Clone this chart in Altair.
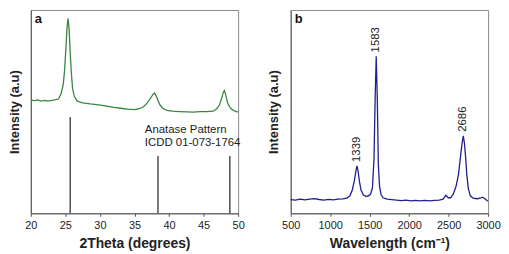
import altair as alt
import pandas as pd

# ---- Panel a: XRD pattern ----
xrd_theta = [20.0, 20.5, 21.0, 21.5, 22.0, 22.5, 23.0, 23.5, 24.0, 24.4, 24.7, 24.9, 25.1, 25.25,
             25.4, 25.55, 25.7, 25.85, 26.05, 26.3, 26.7, 27.3, 28.0, 28.6, 29.2, 30.1, 31.0, 32.0,
             33.0, 34.0, 35.0, 35.7, 36.3, 36.8, 37.3, 37.7, 37.9, 38.15, 38.4, 38.7, 39.1, 39.7,
             40.5, 41.5, 42.6, 43.5, 44.5, 45.5, 46.4, 46.9, 47.3, 47.65, 47.85, 48.0, 48.2, 48.45,
             48.75, 49.1, 49.5, 49.95]
xrd_int = [116.3, 115.8, 116.6, 115.4, 116.0, 115.3, 116.2, 116.6, 117.5, 123, 133, 148, 172, 192,
           200.3, 188, 165, 146, 128, 120, 115.5, 113.7, 113, 112.4, 112, 111.3, 110.2, 109,
           108, 107, 106.6, 107.5, 109.5, 113, 118, 122.5, 123.7, 120.5, 116, 111.3, 108, 105.7,
           105, 104.6, 104.3, 104.1, 104.5, 104.6, 105, 107.5, 111.3, 119, 124.5, 126.3, 122, 114,
           109.7, 106.8, 105.2, 104]

ref_theta = [25.7, 38.4, 48.8]
ref_int = [99, 59, 59]

ref_text = ["Anatase Pattern", "ICDD 01-073-1764"]
ref_text_x = [36.5, 36.5]
ref_text_y = [86, 72]

# ---- Panel b: Raman spectrum ----
raman_x = [500, 560, 620, 680, 740, 800, 860, 920, 980, 1040, 1100, 1160, 1210, 1250, 1280, 1305,
           1325, 1339, 1352, 1370, 1390, 1420, 1450, 1480, 1510, 1535, 1555, 1570, 1583, 1596,
           1610, 1625, 1645, 1670, 1720, 1780, 1840, 1900, 1960, 2020, 2080, 2140, 2200, 2260,
           2320, 2380, 2430, 2465, 2495, 2525, 2560, 2595, 2625, 2650, 2670, 2686, 2700, 2715,
           2730, 2750, 2775, 2810, 2860, 2900, 2930, 2960, 2990, 3000]
raman_int = [14, 13.5, 14.5, 13.8, 14.6, 15, 14.2, 13.6, 14.4, 13.8, 14.5, 14.8, 15.5, 18, 24, 33,
             43, 48.7, 44, 33, 24, 19, 17.5, 17.8, 19.5, 26, 56, 120, 161.3, 120,
             50, 28, 19, 16, 14.5, 14, 13.5, 13, 13.6, 12.8, 13.4, 12.9, 13.3, 12.7,
             13.2, 13.5, 14.5, 18.5, 16, 16, 20, 28, 40, 58, 72, 79.7, 72, 58,
             40, 25, 18, 15.5, 15, 15.5, 16.5, 15, 13, 12.5]

peak_x = [1339, 1583, 2686]
peak_y = [48.7, 161.3, 79.7]
peak_label = ["1339", "1583", "2686"]

FONT = "Liberation Sans"
H = 205
Y_DOM = [0, 209]

xrd_df = pd.DataFrame({"theta": xrd_theta, "intensity": xrd_int})
ref_df = pd.DataFrame({"theta": ref_theta, "intensity": [0] * len(ref_theta), "top": ref_int})
txt_df = pd.DataFrame({"theta": ref_text_x, "intensity": ref_text_y, "t": ref_text})
raman_df = pd.DataFrame({"x": raman_x, "intensity": raman_int})
peak_df = pd.DataFrame({"x": peak_x, "intensity": peak_y, "t": peak_label})

s_y = alt.Scale(domain=Y_DOM, nice=False)

xa = alt.X("theta:Q", scale=alt.Scale(domain=[20, 50], nice=False),
           axis=alt.Axis(values=[20, 25, 30, 35, 40, 45, 50], title="2Theta (degrees)",
                         titlePadding=6, grid=False, labelOverlap=False, labelFlush=False))
ya = alt.Y("intensity:Q", scale=s_y,
           axis=alt.Axis(labels=False, ticks=False, grid=False, title="Intensity (a.u)",
                         titlePadding=9.5, titleFontSize=13))

line_a = alt.Chart(xrd_df).mark_line(color="#3a8440", strokeWidth=1.3).encode(x=xa, y=ya)
sticks = alt.Chart(ref_df).mark_rule(color="#333333", strokeWidth=1.3).encode(
    x=xa, y=ya, y2="top:Q")
ref_lbl = alt.Chart(txt_df).mark_text(align="left", baseline="middle", font=FONT,
                                      fontSize=11.5, color="#222222").encode(
    x=xa, y=ya, text="t:N")
tag_a = alt.Chart(pd.DataFrame({"t": ["a"]})).mark_text(
    align="left", baseline="top", font=FONT, fontSize=13, fontWeight="bold", color="#111111"
).encode(x=alt.value(4), y=alt.value(3), text="t:N")

panel_a = alt.layer(line_a, sticks, ref_lbl, tag_a).properties(width=209, height=H)

xb = alt.X("x:Q", scale=alt.Scale(domain=[500, 3000], nice=False),
           axis=alt.Axis(values=[500, 1000, 1500, 2000, 2500, 3000], title="Wavelength (cm⁻¹)",
                         titlePadding=6, grid=False, format="d", labelOverlap=False,
                         labelFlush=False))
yb = alt.Y("intensity:Q", scale=s_y,
           axis=alt.Axis(labels=False, ticks=False, grid=False, title="Intensity (a.u)",
                         titlePadding=10, titleFontSize=13))
line_b = alt.Chart(raman_df).mark_line(color="#1f1f8f", strokeWidth=1.3).encode(x=xb, y=yb)
peaks = alt.Chart(peak_df).mark_text(angle=270, align="left", baseline="middle", dx=4,
                                     font=FONT, fontSize=11.5, color="#222222").encode(
    x=xb, y=yb, text="t:N")
tag_b = alt.Chart(pd.DataFrame({"t": ["b"]})).mark_text(
    align="left", baseline="top", font=FONT, fontSize=13, fontWeight="bold", color="#111111"
).encode(x=alt.value(4), y=alt.value(3), text="t:N")

panel_b = alt.layer(line_b, peaks, tag_b).properties(width=199, height=H)

chart = alt.hconcat(panel_a, panel_b, spacing=22).properties(
    padding={"left": 0, "top": 0, "right": 0, "bottom": 0}
).configure_view(stroke="#8a8a8a", strokeWidth=1).configure_axis(
    labelFont=FONT, labelFontSize=11, labelColor="#222222",
    titleFont=FONT, titleFontSize=14, titleFontWeight="bold", titleColor="#222222",
    domainColor="#555555", tickColor="#555555", tickSize=3, labelPadding=3
)

chart.save("out.html", embed_options={"renderer": "svg", "actions": False})
